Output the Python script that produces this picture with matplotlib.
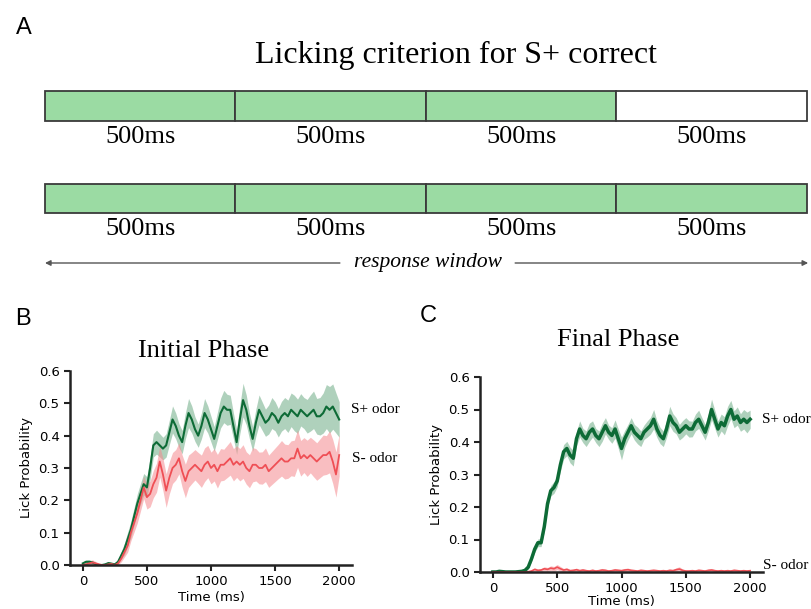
import numpy as np
import matplotlib
matplotlib.use('Agg')
import matplotlib.pyplot as plt

# ---- данные ----
segments = [500, 500, 500, 500]
seg_labels = ['500ms', '500ms', '500ms', '500ms']
row1_colors = ['#9bdba3', '#9bdba3', '#9bdba3', '#ffffff']
row2_colors = ['#9bdba3', '#9bdba3', '#9bdba3', '#9bdba3']

t = np.arange(0, 2001, 25)

# Initial phase (B)
b_plus = [0.005, 0.01, 0.01, 0.008, 0.003, 0.0, 0.0, 0.002, 0.006, 0.004, 0.002, 0.01,
          0.03, 0.05, 0.08, 0.11, 0.15, 0.19, 0.22, 0.25, 0.24, 0.30, 0.37, 0.38, 0.37,
          0.36, 0.37, 0.41, 0.45, 0.43, 0.40, 0.38, 0.43, 0.47, 0.45, 0.42, 0.40,
          0.43, 0.47, 0.45, 0.42, 0.39, 0.43, 0.47, 0.49, 0.48, 0.48, 0.43, 0.38,
          0.45, 0.51, 0.48, 0.43, 0.39, 0.44, 0.48, 0.46, 0.44, 0.45, 0.47, 0.46,
          0.44, 0.46, 0.47, 0.46, 0.48, 0.47, 0.46, 0.48, 0.47, 0.46, 0.47, 0.48,
          0.46, 0.46, 0.47, 0.49, 0.48, 0.49, 0.47, 0.45]
b_plus_sem = [0.004, 0.005, 0.006, 0.005, 0.004, 0.003, 0.003, 0.004, 0.005, 0.004, 0.004, 0.006,
              0.012, 0.018, 0.022, 0.025, 0.027, 0.030, 0.032, 0.033, 0.033, 0.035, 0.036, 0.037, 0.036,
              0.035, 0.036, 0.038, 0.042, 0.040, 0.037, 0.036, 0.040, 0.045, 0.042, 0.038, 0.036,
              0.040, 0.045, 0.042, 0.040, 0.038, 0.042, 0.046, 0.050, 0.048, 0.045, 0.040, 0.038,
              0.044, 0.052, 0.046, 0.040, 0.038, 0.042, 0.046, 0.044, 0.042, 0.045, 0.048, 0.045,
              0.044, 0.046, 0.048, 0.050, 0.052, 0.055, 0.053, 0.050, 0.048, 0.052, 0.056, 0.058,
              0.055, 0.058, 0.062, 0.068, 0.072, 0.070, 0.062, 0.055]
b_minus = [0.0, 0.002, 0.005, 0.008, 0.005, 0.002, 0.0, 0.0, 0.002, 0.003, 0.0, 0.005,
           0.02, 0.04, 0.06, 0.10, 0.13, 0.16, 0.20, 0.24, 0.21, 0.22, 0.25, 0.27, 0.32,
           0.28, 0.23, 0.27, 0.30, 0.31, 0.33, 0.29, 0.26, 0.29, 0.30, 0.31, 0.30,
           0.29, 0.31, 0.32, 0.30, 0.31, 0.29, 0.31, 0.31, 0.32, 0.33, 0.31, 0.32,
           0.31, 0.32, 0.30, 0.29, 0.31, 0.31, 0.30, 0.30, 0.31, 0.29, 0.30, 0.31,
           0.32, 0.33, 0.32, 0.32, 0.33, 0.33, 0.36, 0.33, 0.34, 0.33, 0.34, 0.33,
           0.32, 0.33, 0.34, 0.34, 0.35, 0.32, 0.28, 0.34]
b_minus_sem = [0.004, 0.005, 0.007, 0.008, 0.006, 0.004, 0.003, 0.003, 0.004, 0.004, 0.003, 0.005,
               0.010, 0.015, 0.020, 0.025, 0.028, 0.030, 0.033, 0.035, 0.037, 0.040, 0.042, 0.045, 0.048,
               0.050, 0.052, 0.050, 0.048, 0.047, 0.048, 0.050, 0.052, 0.050, 0.048, 0.047, 0.048,
               0.050, 0.052, 0.050, 0.049, 0.050, 0.052, 0.050, 0.048, 0.050, 0.052, 0.050, 0.049,
               0.050, 0.052, 0.050, 0.051, 0.053, 0.050, 0.049, 0.050, 0.052, 0.050, 0.051, 0.052,
               0.053, 0.055, 0.054, 0.052, 0.054, 0.056, 0.058, 0.055, 0.054, 0.056, 0.055, 0.057,
               0.058, 0.060, 0.062, 0.060, 0.065, 0.068, 0.070, 0.065]

# Final phase (C)
c_plus = [0.0, 0.0, 0.002, 0.001, 0.0, 0.0, 0.0, 0.0, 0.001, 0.002, 0.005, 0.015,
          0.04, 0.07, 0.09, 0.09, 0.14, 0.21, 0.25, 0.26, 0.28, 0.33, 0.37, 0.38, 0.36,
          0.35, 0.41, 0.44, 0.42, 0.41, 0.43, 0.44, 0.42, 0.41, 0.43, 0.45, 0.43,
          0.42, 0.44, 0.41, 0.38, 0.41, 0.43, 0.45, 0.43, 0.42, 0.41, 0.43, 0.44,
          0.45, 0.47, 0.44, 0.42, 0.41, 0.44, 0.48, 0.46, 0.45, 0.43, 0.44, 0.45,
          0.44, 0.44, 0.46, 0.47, 0.45, 0.43, 0.46, 0.50, 0.47, 0.44, 0.46, 0.45,
          0.48, 0.50, 0.47, 0.48, 0.46, 0.47, 0.46, 0.47]
c_plus_sem = [0.002, 0.002, 0.003, 0.002, 0.002, 0.002, 0.002, 0.002, 0.002, 0.003, 0.004, 0.006,
              0.008, 0.010, 0.012, 0.012, 0.014, 0.015, 0.016, 0.018, 0.018, 0.020, 0.022, 0.022, 0.024,
              0.024, 0.022, 0.025, 0.022, 0.024, 0.028, 0.025, 0.022, 0.024, 0.028, 0.025, 0.022,
              0.024, 0.028, 0.030, 0.035, 0.026, 0.024, 0.025, 0.024, 0.026, 0.024, 0.022, 0.025,
              0.026, 0.030, 0.026, 0.025, 0.024, 0.026, 0.030, 0.027, 0.025, 0.024, 0.026, 0.025,
              0.025, 0.024, 0.026, 0.028, 0.025, 0.024, 0.026, 0.032, 0.028, 0.025, 0.026, 0.028,
              0.030, 0.028, 0.026, 0.028, 0.027, 0.030, 0.032, 0.028]
c_minus = [0.0, 0.0, 0.0, 0.0, 0.0, 0.0, 0.0, 0.0, 0.0, 0.0, 0.0, 0.001,
           0.003, 0.008, 0.005, 0.006, 0.010, 0.008, 0.012, 0.010, 0.015, 0.010, 0.006, 0.008, 0.004,
           0.005, 0.007, 0.004, 0.006, 0.004, 0.003, 0.005, 0.003, 0.004, 0.006, 0.005, 0.003,
           0.004, 0.006, 0.005, 0.004, 0.006, 0.007, 0.005, 0.004, 0.003, 0.005, 0.004, 0.003,
           0.004, 0.005, 0.004, 0.003, 0.004, 0.003, 0.005, 0.004, 0.007, 0.009, 0.005, 0.003,
           0.003, 0.004, 0.003, 0.005, 0.004, 0.003, 0.005, 0.006, 0.004, 0.003, 0.004, 0.003,
           0.004, 0.003, 0.005, 0.004, 0.003, 0.004, 0.003, 0.004]
c_minus_sem = [0.0, 0.0, 0.0, 0.0, 0.0, 0.0, 0.0, 0.0, 0.0, 0.0, 0.001, 0.002,
               0.003, 0.005, 0.004, 0.005, 0.006, 0.006, 0.007, 0.007, 0.008, 0.007, 0.005, 0.005, 0.004,
               0.004, 0.005, 0.004, 0.004, 0.004, 0.003, 0.004, 0.003, 0.004, 0.005, 0.004, 0.003,
               0.004, 0.005, 0.004, 0.004, 0.005, 0.005, 0.004, 0.004, 0.003, 0.004, 0.004, 0.003,
               0.004, 0.004, 0.004, 0.003, 0.004, 0.003, 0.004, 0.004, 0.006, 0.007, 0.004, 0.003,
               0.003, 0.004, 0.003, 0.004, 0.004, 0.003, 0.004, 0.005, 0.004, 0.003, 0.004, 0.003,
               0.004, 0.003, 0.004, 0.004, 0.003, 0.004, 0.003, 0.004]

W, H = 812, 609
SERIF = 'Liberation Serif'
GREEN, GREEN_BAND = '#0d6b36', '#4f9a6c'
RED, RED_BAND = '#ef4f55', '#f58a8f'

fig = plt.figure(figsize=(W / 100, H / 100), dpi=100)


def px_axes(left, top, right, bottom):
    return fig.add_axes([left / W, 1 - bottom / H, (right - left) / W, (bottom - top) / H])


# ---- панель A ----
axA = px_axes(45, 40, 807, 275)
axA.set_xlim(0, 2000)
axA.set_ylim(275, 40)
axA.axis('off')
starts = np.concatenate([[0], np.cumsum(segments)[:-1]])
centers = starts + np.array(segments) / 2
for y, h, colors, ly in [(106, 30, row1_colors, 137), (198.5, 29, row2_colors, 229)]:
    axA.barh(y, segments, left=starts, height=h, color=colors,
             edgecolor='#3a3a3a', linewidth=1.3, clip_on=False)
    for c, lab in zip(centers, seg_labels):
        axA.text(c, ly, lab, ha='center', va='center', fontsize=19, family=SERIF)

arrow = dict(arrowstyle='-|>', color='#555555', lw=1.0, mutation_scale=8, shrinkA=0, shrinkB=0)
axA.annotate('', xy=(0, 263), xytext=(774, 263), arrowprops=arrow, annotation_clip=False)
axA.annotate('', xy=(2003, 263), xytext=(1234, 263), arrowprops=arrow, annotation_clip=False)
axA.text(1005, 263, 'response window', ha='center', va='center', fontsize=15.5,
         family=SERIF, style='italic')

fig.text(456 / W, 1 - 55 / H, 'Licking criterion for S+ correct', ha='center', va='center',
         fontsize=23, family=SERIF)


def style_axes(ax):
    ax.set_xlim(-100, 2100)
    ax.set_ylim(0, 0.6)
    ax.set_xticks([0, 500, 1000, 1500, 2000])
    ax.set_yticks(np.arange(0, 0.61, 0.1))
    ax.spines['top'].set_visible(False)
    ax.spines['right'].set_visible(False)
    for s in ['left', 'bottom']:
        ax.spines[s].set_linewidth(1.8)
        ax.spines[s].set_color('#222222')
    ax.tick_params(direction='out', length=4, width=1.5, labelsize=9.5, color='#222222')
    ax.set_ylabel('Lick Probability', fontsize=9.5)


# ---- панель B ----
axB = px_axes(70, 371, 352, 565)
axB.fill_between(t, np.array(b_plus) - b_plus_sem, np.array(b_plus) + b_plus_sem,
                 color=GREEN_BAND, alpha=0.45, lw=0)
axB.fill_between(t, np.array(b_minus) - b_minus_sem, np.array(b_minus) + b_minus_sem,
                 color=RED_BAND, alpha=0.55, lw=0)
axB.plot(t, b_plus, color=GREEN, lw=1.5)
axB.plot(t, b_minus, color=RED, lw=1.3)
style_axes(axB)
axB.set_xlabel('Time (ms)', fontsize=9.5, labelpad=2)
axB.text(2090, 0.48, 'S+ odor', fontsize=11, family=SERIF, va='center', clip_on=False)
axB.text(2100, 0.33, 'S- odor', fontsize=11, family=SERIF, va='center', clip_on=False)
fig.text(204 / W, 1 - 351 / H, 'Initial Phase', ha='center', va='center', fontsize=19, family=SERIF)

# ---- панель C ----
axC = px_axes(480, 377, 763, 572)
axC.fill_between(t, np.array(c_plus) - c_plus_sem, np.array(c_plus) + c_plus_sem,
                 color=GREEN_BAND, alpha=0.45, lw=0)
axC.fill_between(t, np.array(c_minus) - c_minus_sem, np.array(c_minus) + c_minus_sem,
                 color=RED_BAND, alpha=0.55, lw=0)
axC.plot(t, c_plus, color=GREEN, lw=2.5)
axC.plot(t, c_minus, color=RED, lw=1.2)
style_axes(axC)
axC.set_xlabel('Time (ms)', fontsize=9.5, labelpad=0)
axC.text(2090, 0.47, 'S+ odor', fontsize=11, family=SERIF, va='center', clip_on=False)
axC.text(2100, 0.02, 'S- odor', fontsize=11, family=SERIF, va='center', clip_on=False)
fig.text(618 / W, 1 - 340 / H, 'Final Phase', ha='center', va='center', fontsize=19, family=SERIF)

# буквы панелей
for x, y, s in [(24, 28, 'A'), (23, 319, 'B'), (428, 316, 'C')]:
    fig.text(x / W, 1 - y / H, s, ha='center', va='center', fontsize=17, family='Liberation Sans')

fig.savefig('out.png', dpi=100)
